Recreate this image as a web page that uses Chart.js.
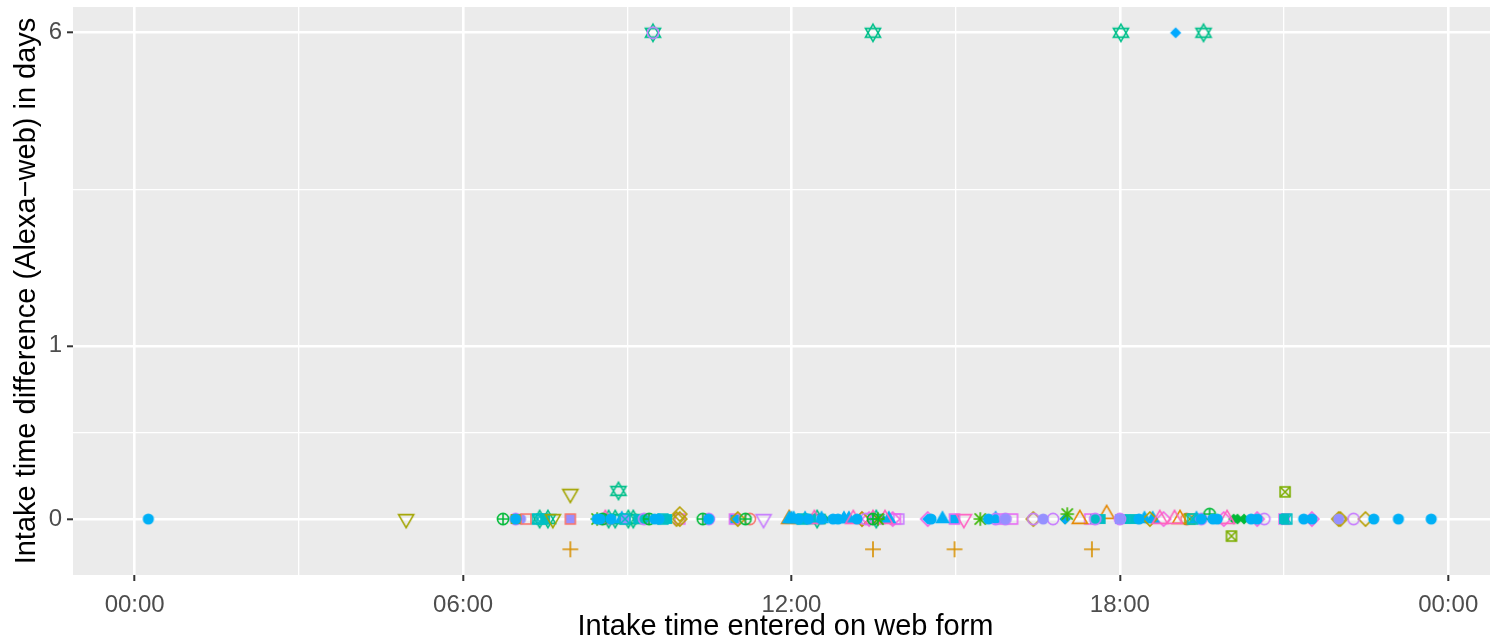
<!DOCTYPE html>
<html>
<head>
<meta charset="utf-8">
<script src="https://cdn.jsdelivr.net/npm/chart.js@4.4.1/dist/chart.umd.min.js"></script>
<style>
  html, body { margin: 0; background: #fff; overflow: hidden; }
  canvas { display: block; }
</style>
</head>
<body>
<!-- the ggplot panel runs a little past the right edge of the picture -->
<canvas id="scatter" width="1505" height="644"></canvas>
<script>
// time of day the intake was entered on the web form (hours), difference Alexa-web (days), subject id
const hours = [
  0.25, 4.96, 7.96, 7.96, 8.84, 9.47, 9.47, 13.49, 13.49, 14.98,
  17.49, 18.02, 19.02, 19.53, 21.02, 20.04, 17.04, 17.76, 19.64, 9.96,
  6.73, 6.96, 6.96, 6.96, 7.15, 7.36, 7.45, 7.55, 7.64, 7.96,
  7.96, 8.45, 8.45, 8.60, 8.60, 8.78, 8.96, 8.96, 9.11, 9.31,
  9.31, 9.40, 9.58, 9.73, 9.96, 9.96, 10.38, 10.49, 10.49, 10.96,
  10.96, 11.02, 11.16, 11.24, 11.49, 11.96, 11.96, 12.04, 12.09, 12.20,
  12.20, 12.31, 12.42, 12.55, 12.55, 12.76, 12.96, 13.13, 13.29, 13.29,
  13.36, 13.49, 13.49, 13.58, 13.71, 13.85, 13.96, 14.49, 14.49, 14.55,
  14.76, 14.98, 14.98, 15.15, 15.45, 15.73, 15.73, 15.91, 15.91, 16.04,
  16.42, 16.42, 16.60, 16.78, 17.00, 17.00, 17.27, 17.55, 17.55, 18.00,
  18.00, 18.27, 18.45, 18.55, 18.73, 19.00, 19.22, 19.33, 19.49, 19.49,
  19.78, 19.96, 20.15, 20.27, 20.51, 20.51, 20.64, 21.00, 21.00, 21.36,
  21.51, 21.51, 22.00, 22.00, 22.27, 22.49, 22.64, 23.09, 23.69,
  7.05, 7.40, 7.50, 8.50, 8.55, 8.66, 8.70, 8.90, 9.02, 9.20,
  9.50, 9.65, 9.90, 12.00, 12.13, 12.25, 12.36, 12.47, 12.60, 12.85,
  13.05, 13.20, 13.42, 13.55, 13.65, 13.78, 13.90, 15.60, 15.80, 17.45,
  17.65, 18.10, 18.35, 18.60, 18.80, 19.10, 19.28, 19.40, 19.70, 19.90,
  20.08, 20.40, 21.05, 22.03
];
const diffDays = [
  0, 0, 0.106, -0.114, 0.119, 6, 6, 6, -0.114, -0.114,
  -0.114, 6, 6, 6, 0.115, -0.066, 0.02, 0.02, 0.02, 0.02,
  0, 0, 0, 0, 0, 0, 0, 0, 0, 0,
  0, 0, 0, 0, 0, 0, 0, 0, 0, 0,
  0, 0, 0, 0, 0, 0, 0, 0, 0, 0,
  0, 0, 0, 0, 0, 0, 0, 0, 0, 0,
  0, 0, 0, 0, 0, 0, 0, 0, 0, 0,
  0, 0, 0, 0, 0, 0, 0, 0, 0, 0,
  0, 0, 0, 0, 0, 0, 0, 0, 0, 0,
  0, 0, 0, 0, 0, 0, 0, 0, 0, 0,
  0, 0, 0, 0, 0, 0, 0, 0, 0, 0,
  0, 0, 0, 0, 0, 0, 0, 0, 0, 0,
  0, 0, 0, 0, 0, 0, 0, 0, 0,
  0, 0, 0, 0, 0, 0, 0, 0, 0, 0,
  0, 0, 0, 0, 0, 0, 0, 0, 0, 0,
  0, 0, 0, 0, 0, 0, 0, 0, 0, 0,
  0, 0, 0, 0, 0, 0, 0, 0, 0, 0,
  0, 0, 0, 0
];
const subject = [
  0, 1, 1, 15, 16, 16, 10, 16, 15, 15,
  15, 16, 17, 16, 18, 18, 7, 14, 2, 12,
  2, 3, 0, 10, 4, 5, 5, 16, 1, 6,
  4, 0, 7, 8, 21, 16, 9, 5, 16, 10,
  11, 2, 0, 11, 22, 12, 2, 0, 10, 22,
  23, 12, 2, 24, 26, 13, 14, 13, 23, 11,
  5, 0, 8, 0, 13, 0, 13, 8, 20, 12,
  10, 8, 2, 7, 8, 20, 25, 17, 20, 0,
  13, 22, 23, 19, 7, 13, 10, 9, 10, 22,
  10, 12, 9, 10, 17, 21, 14, 11, 10, 6,
  10, 11, 13, 12, 8, 8, 24, 5, 10, 0,
  0, 8, 21, 21, 20, 0, 10, 22, 11, 0,
  20, 0, 9, 12, 10, 12, 0, 0, 0,
  9, 16, 11, 0, 2, 16, 0, 13, 16, 11,
  0, 5, 12, 13, 0, 13, 11, 16, 21, 0,
  13, 0, 20, 16, 21, 13, 22, 0, 22, 22,
  11, 11, 0, 13, 20, 14, 18, 13, 0, 20,
  21, 0, 5, 12
];

// axis ticks
const xTickHours = [0, 6, 12, 18, 24];
const xMinorHours = [3, 9, 15, 21];
const yTickDays = [0, 1, 6];

// marker per subject (ggplot-like shapes and hue colours)
const subjectShapes = [
  'circleF', 'triDownO', 'circlePlus', 'squareF', 'squareO', 'squareCross', 'squareF', 'asterisk',
  'triUpO', 'circleF', 'circleO', 'squareF', 'diamondO', 'triUpF', 'triUpO', 'plus',
  'david', 'diamondS', 'squareCross', 'triDownO', 'diamondO', 'diamondS', 'squareO', 'squareF',
  'circleO', 'squareO', 'triDownO'
];
const subjectColors = [
  '#00B0F6', '#A3A500', '#00BA38', '#A3A500', '#F8766D', '#00BFC4', '#9590FF', '#39B600',
  '#FF62BC', '#9590FF', '#C77CFF', '#00BFC4', '#B79F00', '#00B0F6', '#E58700', '#D89000',
  '#00C08B', '#00A9FF', '#7CAE00', '#FF61C3', '#F564E3', '#00BA38', '#E76BF3', '#00B0F6',
  '#F8766D', '#C77CFF', '#C77CFF'
];

function marker(shape, color) {
  const c = document.createElement('canvas');
  c.width = 24; c.height = 24;
  const g = c.getContext('2d');
  g.translate(12, 12);
  g.strokeStyle = color;
  g.fillStyle = color;
  g.lineWidth = 1.6;
  const R = 5.6;
  const tri = (dir) => {
    const r = 1.555 * R, xc = 1.347 * R, yc = 0.778 * R;
    g.beginPath();
    g.moveTo(0, -dir * r);
    g.lineTo(xc, dir * yc);
    g.lineTo(-xc, dir * yc);
    g.closePath();
  };
  const cross = (a, diag) => {
    g.beginPath();
    if (diag) {
      g.moveTo(-a, -a); g.lineTo(a, a); g.moveTo(-a, a); g.lineTo(a, -a);
    } else {
      g.moveTo(-a, 0); g.lineTo(a, 0); g.moveTo(0, -a); g.lineTo(0, a);
    }
    g.stroke();
  };
  const sq = 0.886 * R;
  const dm = 1.253 * R;
  switch (shape) {
    case 'circleF': g.beginPath(); g.arc(0, 0, R, 0, Math.PI * 2); g.fill(); break;
    case 'circleO': g.beginPath(); g.arc(0, 0, R, 0, Math.PI * 2); g.stroke(); break;
    case 'squareF': g.fillRect(-sq, -sq, 2 * sq, 2 * sq); break;
    case 'squareO': g.strokeRect(-sq, -sq, 2 * sq, 2 * sq); break;
    case 'triUpO': tri(1); g.stroke(); break;
    case 'triUpF': tri(1); g.fill(); break;
    case 'triDownO': tri(-1); g.stroke(); break;
    case 'diamondO':
      g.beginPath(); g.moveTo(0, -dm); g.lineTo(dm, 0); g.lineTo(0, dm); g.lineTo(-dm, 0); g.closePath(); g.stroke(); break;
    case 'diamondS':
      g.beginPath(); g.moveTo(0, -R); g.lineTo(R, 0); g.lineTo(0, R); g.lineTo(-R, 0); g.closePath(); g.fill(); break;
    case 'plus': cross(1.414 * R, false); break;
    case 'asterisk': cross(1.2 * R, false); cross(R, true); break;
    case 'circlePlus': g.beginPath(); g.arc(0, 0, R, 0, Math.PI * 2); g.stroke(); cross(R, false); break;
    case 'squareCross': g.strokeRect(-sq, -sq, 2 * sq, 2 * sq); cross(sq, true); break;
    case 'david': tri(1); g.stroke(); tri(-1); g.stroke(); break;
  }
  return c;
}

const toY = d => Math.log1p(d);
const isMajorY = v => yTickDays.some(d => Math.abs(toY(d) - v) < 1e-6);

const datasets = [];
subjectShapes.forEach((shape, s) => {
  const pts = [];
  hours.forEach((h, i) => {
    if (subject[i] === s) pts.push({ x: h, y: toY(diffDays[i]) });
  });
  if (!pts.length) return;
  datasets.push({
    label: 'S' + s,
    data: pts,
    pointStyle: marker(shape, subjectColors[s]),
    pointRadius: 6,
    pointHoverRadius: 6
  });
});

const panelBg = {
  id: 'panelBg',
  beforeDraw(chart) {
    const { ctx, chartArea: a } = chart;
    ctx.save();
    ctx.fillStyle = '#EBEBEB';
    ctx.fillRect(a.left, a.top, a.right - a.left, a.bottom - a.top);
    ctx.restore();
  }
};

const font = 'Liberation Sans, Arial, Helvetica, sans-serif';

new Chart(document.getElementById('scatter'), {
  type: 'scatter',
  data: { datasets },
  plugins: [panelBg],
  options: {
    responsive: false,
    animation: false,
    layout: { padding: { top: 7, right: 0, left: 0, bottom: 0 } },
    plugins: { legend: { display: false }, tooltip: { enabled: false } },
    scales: {
      x: {
        type: 'linear',
        min: -1.127,
        max: 24.91,
        afterBuildTicks: s => {
          s.ticks = xTickHours.concat(xMinorHours).sort((a, b) => a - b).map(v => ({ value: v }));
        },
        afterFit: s => { s.height = 69; s.paddingLeft = 0; s.paddingRight = 0; },
        ticks: {
          autoSkip: false,
          maxRotation: 0,
          padding: 10,
          color: '#4D4D4D',
          font: { family: font, size: 24 },
          callback: v => xTickHours.includes(v) ? String(v % 24).padStart(2, '0') + ':00' : ''
        },
        grid: {
          color: '#FFFFFF',
          lineWidth: c => xTickHours.includes(c.tick.value) ? 2.6 : 1.3,
          tickColor: c => xTickHours.includes(c.tick.value) ? '#333333' : 'rgba(0,0,0,0)',
          tickLength: 6,
          tickWidth: 2
        },
        border: { display: false },
        title: {
          display: true,
          text: 'Intake time entered on web form',
          color: '#000000',
          font: { family: font, size: 29 },
          padding: { top: 0, bottom: 0 }
        }
      },
      y: {
        type: 'linear',
        min: -0.224,
        max: 2.049,
        afterBuildTicks: s => {
          const maj = yTickDays.map(toY);
          const minor = [];
          for (let i = 1; i < maj.length; i++) minor.push((maj[i - 1] + maj[i]) / 2);
          s.ticks = maj.concat(minor).sort((a, b) => a - b).map(v => ({ value: v }));
        },
        afterFit: s => { s.width = 73; s.paddingTop = 0; s.paddingBottom = 0; },
        ticks: {
          autoSkip: false,
          padding: 5,
          color: '#4D4D4D',
          font: { family: font, size: 24 },
          callback: v => isMajorY(v) ? String(Math.round(Math.expm1(v))) : ''
        },
        grid: {
          color: '#FFFFFF',
          lineWidth: c => isMajorY(c.tick.value) ? 2.6 : 1.3,
          tickColor: c => isMajorY(c.tick.value) ? '#333333' : 'rgba(0,0,0,0)',
          tickLength: 6,
          tickWidth: 2
        },
        border: { display: false },
        title: {
          display: true,
          text: 'Intake time difference (Alexa\u2212web) in days',
          color: '#000000',
          font: { family: font, size: 29 },
          padding: { top: 10, bottom: 0 }
        }
      }
    }
  }
});
</script>
</body>
</html>
